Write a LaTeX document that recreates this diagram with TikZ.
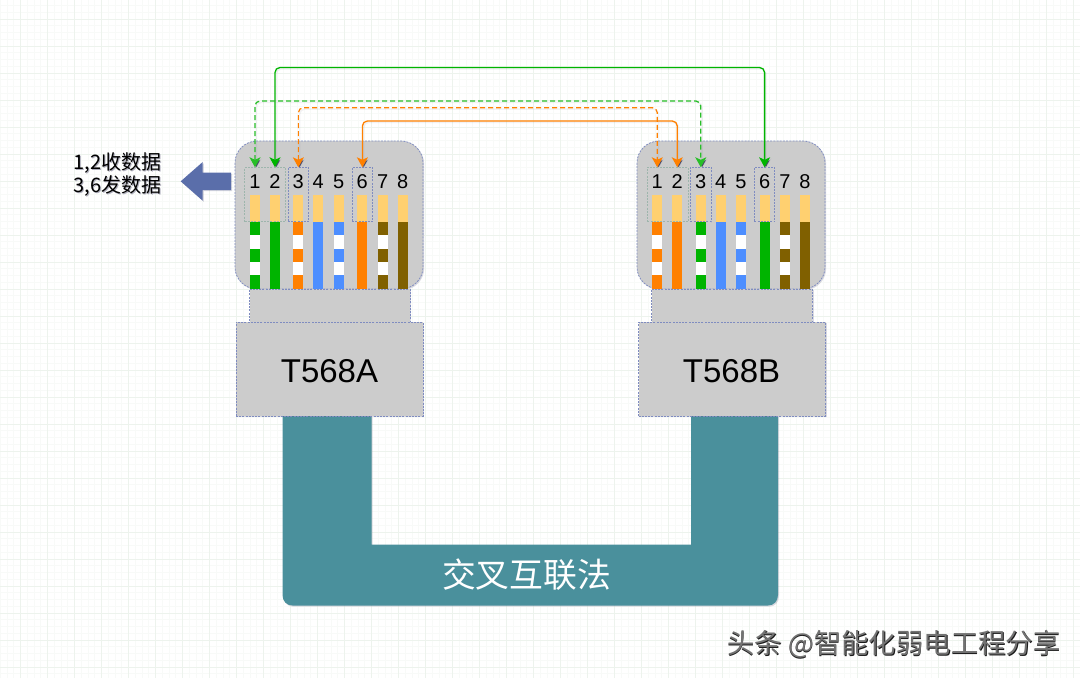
\documentclass[tikz,border=0pt]{standalone}
\usepackage{fontspec}
\setmainfont{Liberation Sans}
\newfontfamily\cjkf{Noto Sans CJK SC}
\usetikzlibrary{arrows.meta,shadows,calc}
\definecolor{gA}{HTML}{00B400}
\definecolor{gL}{HTML}{28BE28}
\definecolor{oA}{HTML}{FF8000}
\definecolor{bA}{HTML}{4D8EFF}
\definecolor{brA}{HTML}{806000}
\definecolor{yelA}{HTML}{FFD070}
\definecolor{greyA}{HTML}{CCCCCC}
\definecolor{edgeA}{HTML}{7F8CC0}
\definecolor{edgeG}{HTML}{9DB5AC}
\definecolor{tealA}{HTML}{4A909C}
\definecolor{arrA}{HTML}{5A6EAA}
\definecolor{shd}{HTML}{4A4A6A}
\definecolor{gridM}{HTML}{EDF3ED}
\definecolor{gridN}{HTML}{F8FAF8}
\tikzset{
  softshadow/.style={drop shadow={shadow xshift=1.2pt,shadow yshift=-1.2pt,opacity=.2,fill=shd}},
  partbox/.style={draw=edgeA,fill=greyA,line width=.8pt,dash pattern=on 2pt off 1.2pt,inner sep=0pt,outer sep=0pt,softshadow},
  pinbox/.style={draw=edgeA,line width=.7pt,dash pattern=on 2pt off 1.2pt,inner sep=0pt,outer sep=0pt},
  pingreen/.style={pinbox,draw=edgeG},
  pinnum/.style={font=\fontsize{20}{20}\selectfont,text=black,inner sep=0pt},
  conn/.style={rounded corners=5pt,line width=1.3pt,{Stealth[length=10pt,width=11pt,inset=2.5pt]}-{Stealth[length=10pt,width=11pt,inset=2.5pt]},
    preaction={draw=shd,draw opacity=.07,line width=1.5pt,transform canvas={shift={(1.3pt,-1.3pt)}}}},
  dashconn/.style={conn,dash pattern=on 5pt off 3pt},
  title/.style={font=\fontsize{33}{33}\selectfont,text=black,inner sep=0pt},
}
\newcommand{\softtext}[2]{\leavevmode\rlap{\kern1.2pt\raisebox{-1.2pt}{\color{#1!45}#2}}#2}
\newcommand{\wmark}[1]{\leavevmode\rlap{\kern.6pt\raisebox{-.7pt}{\color{black!90}#1}}{\color{black!55}#1}}
\newcommand{\wire}[3]{% left x, colour, stripes
  \fill[yelA] (#1,194.7) rectangle ++(10,27);
  \fill[#2] (#1,221.7) rectangle ++(10,67);
  \ifnum#3=1
    \fill[white] (#1,235) rectangle ++(10,13.5);
    \fill[white] (#1,262) rectangle ++(10,13.3);
  \fi}
\begin{document}
\begin{tikzpicture}[x=1pt,y=-1pt]
\useasboundingbox (0,0) rectangle (1080,678);
\fill[white] (0,0) rectangle (1080,678);
% background grid
\foreach \k in {-3,...,156}{
  \draw[gridN,line width=.6pt] ({20.3+6.75*\k},0) -- ({20.3+6.75*\k},678);
  \draw[gridN,line width=.6pt] (0,{19+6.75*\k}) -- (1080,{19+6.75*\k});
}
\foreach \k in {0,...,39}{
  \draw[gridM,line width=.7pt] ({20.3+27*\k},0) -- ({20.3+27*\k},678);
}
\foreach \k in {0,...,24}{
  \draw[gridM,line width=.7pt] (0,{19+27*\k}) -- (1080,{19+27*\k});
}
% cable
\path[fill=tealA,drop shadow={shadow xshift=1pt,shadow yshift=-1.2pt,opacity=.2,fill=shd}]
  (282.5,416) -- (371.7,416) -- (371.7,544.5) -- (691,544.5) -- (691,416) -- (778,416) -- (778,595)
  .. controls (778,601) and (774,605.5) .. (768,605.5) -- (292.5,605.5)
  .. controls (286.5,605.5) and (282.5,601) .. (282.5,595) -- cycle;
\node[text=white,font=\cjkf\fontsize{33.8}{34}\selectfont,inner sep=0pt] (cablelabel) at (526.5,574.5) {交叉互联法};
% left plug
\path[partbox,rounded corners=22pt] (235,141) rectangle (423,289);
\node[partbox,minimum width=160.5pt,minimum height=33pt,anchor=north west] (lneck) at (249.5,289) {};
\node[partbox,minimum width=187pt,minimum height=94pt,anchor=north west] (lbox) at (236,322) {};
\node[title] (lname) at (329.5,371) {T568A};
\wire{250}{gA}{1}\wire{270}{gA}{0}\wire{293.3}{oA}{1}\wire{313.3}{bA}{0}
\wire{333.7}{bA}{1}\wire{357.3}{oA}{0}\wire{377.7}{brA}{1}\wire{397.7}{brA}{0}
% right plug
\path[partbox,rounded corners=22pt] (637,141) rectangle (825,289);
\node[partbox,minimum width=160.5pt,minimum height=33pt,anchor=north west] (rneck) at (651.8,289) {};
\node[partbox,minimum width=187pt,minimum height=94pt,anchor=north west] (rbox) at (638.5,322) {};
\node[title] (rname) at (731.5,371) {T568B};
\wire{652.3}{oA}{1}\wire{672.3}{oA}{0}\wire{695.7}{gA}{1}\wire{715.7}{bA}{0}
\wire{736}{bA}{1}\wire{759.7}{gA}{0}\wire{780}{brA}{1}\wire{800}{brA}{0}
% pin numbers
\foreach \n/\x in {1/255,2/275,3/298.3,4/318.3,5/338.7,6/362.3,7/382.7,8/402.7}
  \node[pinnum] (l\n) at (\x,182) {\n};
\foreach \n/\x in {1/657.3,2/677.3,3/700.7,4/720.7,5/741,6/764.7,7/785,8/805}
  \node[pinnum] (r\n) at (\x,182) {\n};
% pin groups
\node[pingreen,minimum width=41pt,minimum height=54.4pt,anchor=north west] (lg12) at (244.7,167.3) {};
\node[pinbox,minimum width=20.7pt,minimum height=54.4pt,anchor=north west] (lg3) at (288,167.3) {};
\node[pinbox,minimum width=20.4pt,minimum height=54.4pt,anchor=north west] (lg6) at (352.2,167.3) {};
\node[pingreen,minimum width=40.7pt,minimum height=54.4pt,anchor=north west] (rg12) at (647.3,167.3) {};
\node[pinbox,minimum width=21pt,minimum height=54.4pt,anchor=north west] (rg3) at (690.3,167.3) {};
\node[pinbox,minimum width=20.4pt,minimum height=54.4pt,anchor=north west] (rg6) at (754.4,167.3) {};
% connector ends
\coordinate (lp1) at (l1 |- lg12.north);
\coordinate (lp2) at (l2 |- lg12.north);
\coordinate (lp3) at (lg3.north);
\coordinate (lp6) at (lg6.north);
\coordinate (rp1) at (r1 |- rg12.north);
\coordinate (rp2) at (r2 |- rg12.north);
\coordinate (rp3) at (rg3.north);
\coordinate (rp6) at (rg6.north);
\coordinate (railA) at (0,67.5);
\coordinate (railB) at (0,101);
\coordinate (railC) at (0,107.7);
\coordinate (railD) at (0,121);
% connectors
\draw[conn,draw=gA,fill=none] (lp2) -- (lp2 |- railA) -- (rp6 |- railA) -- (rp6);
\draw[dashconn,draw=gL,line width=1.3pt] (lp1) -- (lp1 |- railB) -- (rp3 |- railB) -- (rp3);
\draw[dashconn,draw=oA,line width=1.2pt] (lp3) -- (lp3 |- railC) -- (rp1 |- railC) -- (rp1);
\draw[conn,draw=oA] (lp6) -- (lp6 |- railD) -- (rp2 |- railD) -- (rp2);
% big arrow
\fill[arrA,softshadow] (180.7,181.3) -- (202.7,162) -- (202.7,172.7) -- (231,172.7) -- (231,190) -- (202.7,190) -- (202.7,200.7) -- cycle;
\node[align=center,font=\cjkf\fontsize{20}{23}\selectfont,inner sep=0pt] (note) at (117.5,175)
  {\softtext{shd}{1,2收数据}\\\softtext{shd}{3,6发数据}};
% watermark
\node[anchor=west,font=\cjkf\fontsize{27.4}{27}\selectfont,inner sep=0pt] (wm) at (727,645)
  {\wmark{头条 @智能化弱电工程分享}};
\end{tikzpicture}
\end{document}
